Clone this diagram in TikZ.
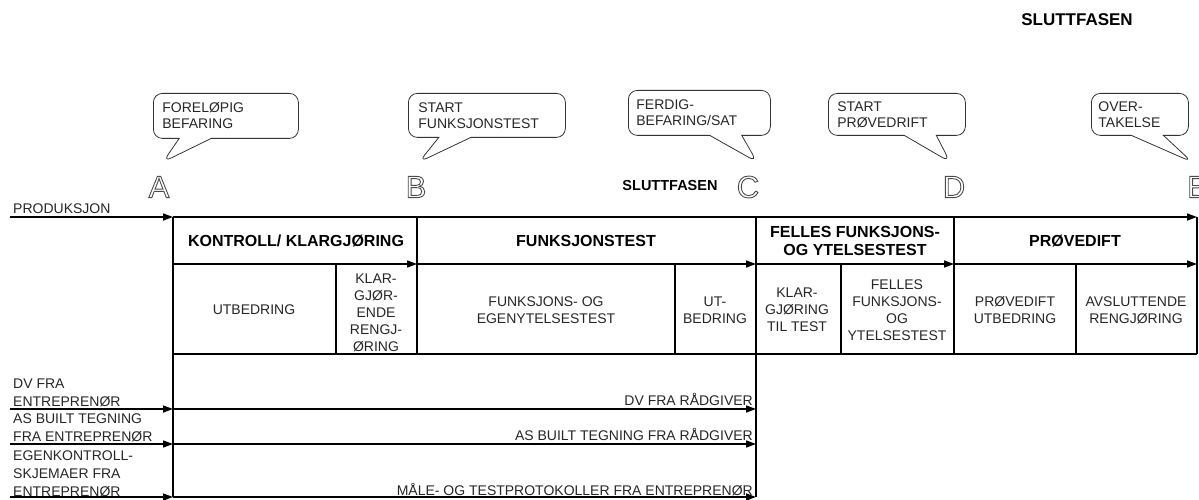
\documentclass[tikz,border=0pt]{standalone}
\usepackage{fontspec}
\setmainfont{Liberation Sans}
\usetikzlibrary{arrows.meta}
\usetikzlibrary{shapes.callouts}
\newcommand{\hollow}[1]{\special{pdf:literal direct 1 Tr 0.9 w}#1\special{pdf:literal direct 0 Tr}}

\begin{document}
\begin{tikzpicture}[x=1pt, y=-1pt]
    \tikzstyle{txt} = [inner sep=0pt, align=center, text=black!85, font=\fontsize{14}{17}\selectfont];
    \tikzstyle{hdr} = [inner sep=0pt, align=center, font=\fontsize{16}{18}\selectfont\bfseries];
    \tikzstyle{ltr} = [inner sep=0pt, text=black!70, font=\fontsize{31}{31}\selectfont];
    \tikzstyle{bub} = [draw=black!80, thick, rectangle callout, callout pointer width=32pt, rounded corners=9pt, anchor=north west, inner sep=0pt, align=left, text=black!85, font=\fontsize{14}{16}\selectfont];
    \tikzstyle{grid} = [line width=1.5pt];
    \tikzstyle{arr} = [line width=1.5pt, -{Triangle[length=10pt, width=7pt]}];
    \useasboundingbox (0,0) rectangle (1199,500);

    % grid points
    \foreach \n/\x in {A/173, AB/336, B/417, BC/675, C/756, CD/841, D/954, DE/1076, E/1197} {
      \coordinate (t\n) at (\x,217);
      \coordinate (h\n) at (\x,264);
      \coordinate (s\n) at (\x,354);
    }
    \coordinate (pS) at (10,217);
    \coordinate (dS) at (10,409);
    \coordinate (bS) at (10,444);
    \coordinate (mS) at (10,497);
    \coordinate (dA) at (173,409);
    \coordinate (bA) at (173,444);
    \coordinate (mA) at (173,497);
    \coordinate (dC) at (756,409);
    \coordinate (bC) at (756,444);
    \coordinate (mC) at (756,497);

    % milestones
    \node (ltA) at (159,187) [ltr]{\hollow{A}};
    \node (ltB) at (416,187) [ltr]{\hollow{B}};
    \node (ltC) at (748,187) [ltr]{\hollow{C}};
    \node (ltD) at (954,187) [ltr]{\hollow{D}};
    \node (ltE) at (1187,187) [ltr, anchor=west]{\hollow{E}};
    \coordinate (tipA) at (163,162);
    \coordinate (tipB) at (419,162);
    \coordinate (tipC) at (757,162);
    \coordinate (tipD) at (950,162);
    \coordinate (tipE) at (1192,162);
    \node (bubA) at (153,93) [bub, minimum width=145, minimum height=45, text width=127, callout absolute pointer={(tipA)}]{FORELØPIG\\BEFARING};
    \node (bubB) at (408,93) [bub, minimum width=157, minimum height=44, text width=137, callout absolute pointer={(tipB)}]{START\\FUNKSJONSTEST};
    \node (bubC) at (628,90) [bub, minimum width=142, minimum height=45, text width=126, callout absolute pointer={(tipC)}]{FERDIG-\\BEFARING/SAT};
    \node (bubD) at (828,93) [bub, minimum width=137, minimum height=42, text width=119, callout absolute pointer={(tipD)}]{START\\PRØVEDRIFT};
    \node (bubE) at (1091,93) [bub, minimum width=97, minimum height=42, text width=83, callout absolute pointer={(tipE)}]{OVER-\\TAKELSE};

    \node (fase1) at (1077,20) [hdr, font=\fontsize{17}{18}\selectfont\bfseries]{SLUTTFASEN};
    \node (fase2) at (670,186) [hdr, font=\fontsize{14.5}{16}\selectfont\bfseries]{SLUTTFASEN};

    % table
    \begin{scope}[black]
      \draw[arr] (pS) -- (tA);
      \draw[arr] (tA) -- (tE);
      \draw[arr] (hA) -- (hB);
      \draw[arr] (hB) -- (hC);
      \draw[arr] (hC) -- (hD);
      \draw[arr] (hD) -- (hE);
      \draw[grid] (sA) -- (sE);
      \draw[grid] (tA) -- (mA);
      \draw[grid] (tC) -- (mC);
      \draw[grid] (tB) -- (sB);
      \draw[grid] (tD) -- (sD);
      \draw[grid] (tE) -- (sE);
      \draw[grid] (hAB) -- (sAB);
      \draw[grid] (hBC) -- (sBC);
      \draw[grid] (hCD) -- (sCD);
      \draw[grid] (hDE) -- (sDE);
      \draw[arr] (dS) -- (dA);
      \draw[arr] (bS) -- (bA);
      \draw[arr] (mS) -- (mA);
      \draw[arr] (dA) -- (dC);
      \draw[arr] (bA) -- (bC);
      \draw[arr] (mA) -- (mC);
    \end{scope}

    \node (kontroll) at (296,241) [hdr]{KONTROLL/ KLARGJØRING};
    \node (ftest) at (586,241) [hdr]{FUNKSJONSTEST};
    \node (felles) at (855,241) [hdr]{FELLES FUNKSJONS-\\OG YTELSESTEST};
    \node (drift) at (1075,241) [hdr]{PRØVEDIFT};

    \node (utb1) at (254,310) [txt]{UTBEDRING};
    \node (klar1) at (376,313) [txt]{KLAR-\\GJØR-\\ENDE\\RENGJ-\\ØRING};
    \node (egen) at (546,310) [txt]{FUNKSJONS- OG\\EGENYTELSESTEST};
    \node (utb2) at (715,310) [txt]{UT-\\BEDRING};
    \node (klar2) at (797,310) [txt]{KLAR-\\GJØRING\\TIL TEST};
    \node (ftest2) at (897,310) [txt]{FELLES\\FUNKSJONS-\\OG\\YTELSESTEST};
    \node (utb3) at (1015,310) [txt]{PRØVEDIFT\\UTBEDRING};
    \node (avsl) at (1136,310) [txt]{AVSLUTTENDE\\RENGJØRING};

    % documents
    \node (prod) at (13,213) [txt, anchor=base west]{PRODUKSJON};
    \node (dv1) at (13,407) [txt, align=left, anchor=south west, font=\fontsize{14}{18}\selectfont]{DV FRA\\ENTREPRENØR};
    \node (ab1) at (13,442) [txt, align=left, anchor=south west, font=\fontsize{14}{18}\selectfont]{AS BUILT TEGNING\\FRA ENTREPRENØR};
    \node (ek1) at (13,497) [txt, align=left, anchor=south west, font=\fontsize{14}{18}\selectfont]{EGENKONTROLL-\\SKJEMAER FRA\\ENTREPRENØR};
    \node (dv2) at (753,406) [txt, anchor=south east]{DV FRA RÅDGIVER};
    \node (ab2) at (753,441) [txt, anchor=south east]{AS BUILT TEGNING FRA RÅDGIVER};
    \node (mp2) at (753,496) [txt, anchor=south east]{MÅLE- OG TESTPROTOKOLLER FRA ENTREPRENØR};
\end{tikzpicture}
\end{document}
